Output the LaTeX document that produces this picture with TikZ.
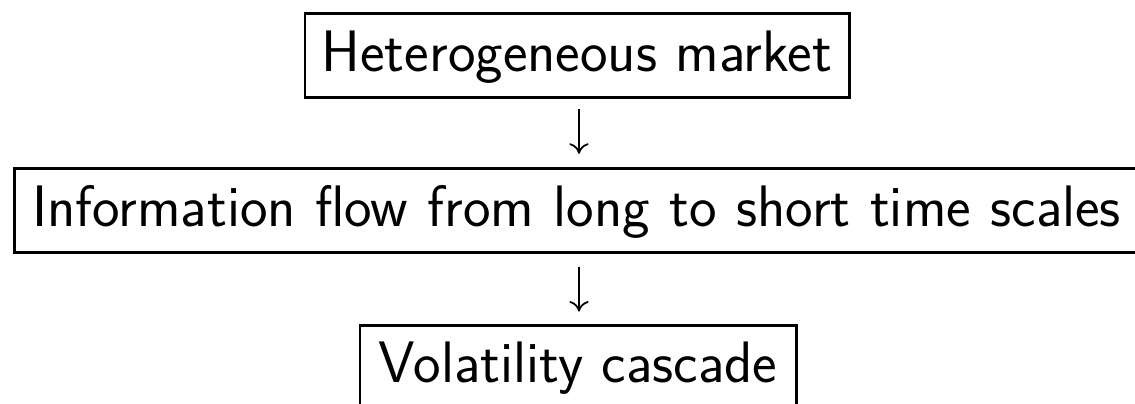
\documentclass[tikz,border=0pt]{standalone}
\usepackage{fontspec}
\usetikzlibrary{arrows.meta}
\begin{document}
\begin{tikzpicture}[x=0.02cm,y=-0.02cm,
  every node/.style={font=\sffamily\fontsize{33.3}{40}\selectfont},
  stepbox/.style={draw, line width=1.7pt, inner sep=0pt, text height=26.6pt, text depth=8pt},
  flow/.style={line width=1pt, -{To[length=6pt,width=11pt]}}]
\useasboundingbox (0,0) rectangle (1135,403);
\clip (0,0) rectangle (1135,403);
% the three stages of the cascade
\node[stepbox, minimum width=544*0.02cm, minimum height=84*0.02cm] (market) at (577,55.5) {Heterogeneous market};
\node[stepbox, minimum height=84*0.02cm, inner xsep=18*0.02cm, text width=1140*0.02cm, align=left, anchor=west] (flowinfo) at (12.7,210.3) {Information flow from long to short time scales};
\node[stepbox, minimum width=436*0.02cm, minimum height=83*0.02cm] (cascade) at (578,366.6) {Volatility cascade};
% downward links
\draw[flow, shorten <=10.5*0.02cm, shorten >=13*0.02cm] (market.south -| 579,0) -- (flowinfo.north -| 579,0);
\draw[flow, shorten <=12.7*0.02cm, shorten >=12*0.02cm] (flowinfo.south -| 579,0) -- (cascade.north -| 579,0);
\end{tikzpicture}
\end{document}
